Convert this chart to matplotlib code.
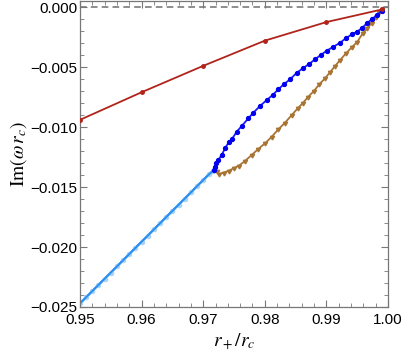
import matplotlib
matplotlib.use("Agg")
import matplotlib.pyplot as plt
from matplotlib.ticker import MultipleLocator, FuncFormatter

# valeurs
red_x = [0.95, 0.96, 0.97, 0.98, 0.99, 0.999]
red_y = [-0.0094, -0.0071, -0.0049, -0.0028, -0.00125, -0.0002]

light_x = [0.950, 0.951, 0.952, 0.953, 0.954, 0.955, 0.956, 0.957, 0.958, 0.959, 0.960,
           0.961, 0.962, 0.963, 0.964, 0.965, 0.966, 0.967, 0.968, 0.969, 0.970, 0.971, 0.9716]
light_y = [-0.02470, -0.02419, -0.02367, -0.02316, -0.02264, -0.02213, -0.02162, -0.02110,
           -0.02059, -0.02007, -0.01956, -0.01905, -0.01853, -0.01802, -0.01750, -0.01699,
           -0.01648, -0.01596, -0.01545, -0.01493, -0.01442, -0.01391, -0.01365]

blue_x = [0.97175, 0.97192, 0.97208, 0.97245, 0.97300, 0.97354, 0.97419, 0.97463, 0.97544,
          0.97625, 0.97732, 0.97813, 0.97922, 0.98031, 0.98128, 0.98219, 0.98312, 0.98409,
          0.98518, 0.98615, 0.98718, 0.98815, 0.98907, 0.99005, 0.99112, 0.99221, 0.99313,
          0.99411, 0.99492, 0.99573, 0.99654, 0.99735, 0.99817, 0.99898]
blue_y = [-0.01358, -0.01331, -0.01303, -0.01275, -0.01233, -0.01178, -0.01123, -0.01103,
          -0.01039, -0.00992, -0.00928, -0.00881, -0.00825, -0.00775, -0.00733, -0.00686,
          -0.00642, -0.00603, -0.00548, -0.00511, -0.00475, -0.00436, -0.00400, -0.00364,
          -0.00331, -0.00298, -0.00261, -0.00228, -0.00206, -0.00178, -0.00136, -0.00103,
          -0.00067, -0.00031]

brown_x = [0.97216, 0.97256, 0.97338, 0.97419, 0.97500, 0.97581, 0.97679, 0.97787, 0.97894,
           0.98003, 0.98112, 0.98219, 0.98328, 0.98437, 0.98544, 0.98620, 0.98706, 0.98799,
           0.98885, 0.98977, 0.99058, 0.99140, 0.99221, 0.99318, 0.99411, 0.99502, 0.99589,
           0.99664, 0.99735, 0.99805, 0.99859, 0.99903]
brown_y = [-0.01367, -0.01392, -0.01379, -0.01363, -0.01342, -0.01321, -0.01283, -0.01233,
           -0.01183, -0.01136, -0.01081, -0.01019, -0.00964, -0.00900, -0.00839, -0.00798,
           -0.00748, -0.00698, -0.00644, -0.00594, -0.00544, -0.00492, -0.00442, -0.00386,
           -0.00336, -0.00289, -0.00219, -0.00178, -0.00131, -0.00086, -0.00039, -0.00017]

plt.rcParams['mathtext.fontset'] = 'stix'
plt.rcParams['font.family'] = ['Liberation Sans', 'DejaVu Sans']


def fmt_y(v, pos):
    s = "%.3f" % abs(v)
    return s if v > -1e-9 else "\u2212" + s


fig = plt.figure(figsize=(4.03, 3.58), dpi=100)
ax = fig.add_axes([0.1985, 0.1425, 0.7643, 0.8545])

ax.axhline(0, color='#7a7a7a', ls=(0, (4, 2.5)), lw=1.2, zorder=1)

ax.plot(light_x, light_y, color='#2a8ff0', lw=1.5, marker='o', ms=3,
        mfc='#a9d3f7', mec='#a9d3f7', zorder=2)
ax.plot(light_x, light_y, color='#2a8ff0', lw=1.5, zorder=2)
ax.plot(brown_x, brown_y, color='#a87433', lw=1.3, marker=(3, 0, 60), ms=3.5,
        mfc='#a87433', mec='#a87433', zorder=3)
ax.plot(blue_x, blue_y, color='#1a1aff', lw=1.3, marker='o', ms=2.8,
        mfc='#0000ee', mec='#0000ee', zorder=4)
ax.plot(red_x, red_y, color='#b0241b', lw=1.3, marker='o', ms=2.5,
        mfc='#b0241b', mec='#b0241b', zorder=5)

ax.set_xlim(0.95, 1.0)
ax.set_ylim(-0.025, 0.0005)

ax.xaxis.set_major_locator(MultipleLocator(0.01))
ax.xaxis.set_minor_locator(MultipleLocator(0.002))
ax.yaxis.set_major_locator(MultipleLocator(0.005))
ax.yaxis.set_minor_locator(MultipleLocator(0.001))
ax.xaxis.set_major_formatter(FuncFormatter(lambda v, p: "%.2f" % v))
ax.yaxis.set_major_formatter(FuncFormatter(fmt_y))

ax.tick_params(which='both', direction='in', top=True, right=True, color='#777777',
               labelsize=11)
ax.tick_params(axis='x', pad=4)
ax.tick_params(axis='y', pad=2)
ax.tick_params(which='major', length=5, width=0.8)
ax.tick_params(which='minor', length=2.8, width=0.6)
for s in ax.spines.values():
    s.set_color('#777777')
    s.set_linewidth(0.9)

ax.set_xlabel(r'$r_+/r_c$', fontsize=14, labelpad=4)
ax.set_ylabel(r'$\mathrm{Im}(\omega\, r_c)$', fontsize=14, labelpad=1)

fig.savefig('out.png', dpi=100)
